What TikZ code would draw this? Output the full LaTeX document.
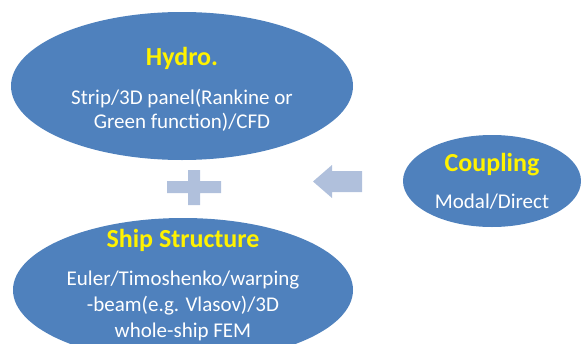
\documentclass[tikz,border=0pt]{standalone}
\usepackage{fontspec}
\setmainfont{Carlito}
\usetikzlibrary{shapes.geometric}
\definecolor{ovalblue}{HTML}{4F81BD}
\definecolor{paleblue}{HTML}{B0C0DC}
\newcommand\ovaltitle[1]{{\color{yellow}\bfseries\fontsize{26}{24}\selectfont #1}}
\tikzset{oval/.style={ellipse,fill=ovalblue,inner sep=0pt},
 ovaltext/.style={text=white,align=center,inner sep=0pt,font=\fontsize{21}{24}\selectfont}}
\begin{document}
\begin{tikzpicture}[x=1pt,y=-1pt]
\useasboundingbox(0,0)rectangle(581,343);
\node[oval,minimum width=342,minimum height=148](hydro)at(182,86){};
\node[oval,minimum width=340,minimum height=144](ship)at(183,290){};
\node[oval,minimum width=178,minimum height=92](coupling)at(492,181){};
\node[ovaltext,yshift=-3.5pt](hydrotext)at(hydro){\ovaltitle{Hydro.}\\[15pt]Strip/3D panel(Rankine or\\Green function)/CFD};
\node[ovaltext,yshift=4.5pt,font=\fontsize{21}{26}\selectfont](shiptext)at(ship){\ovaltitle{Ship Structure}\\[12pt]Euler/Timoshenko/warping\\-beam(e.g. Vlasov)/3D\\whole-ship FEM};
\node[ovaltext](couplingtext)at(coupling){\ovaltitle{Coupling}\\[13pt]Modal/Direct};
% plus between the two ovals
\fill[paleblue](167,181)rectangle(221,193)(188,170)rectangle(200,205);
% arrow from coupling
\fill[paleblue](362,171)--(332,171)--(332,165)--(313,181.5)--(332,198)--(332,192)--(362,192)--cycle;
\end{tikzpicture}
\end{document}
